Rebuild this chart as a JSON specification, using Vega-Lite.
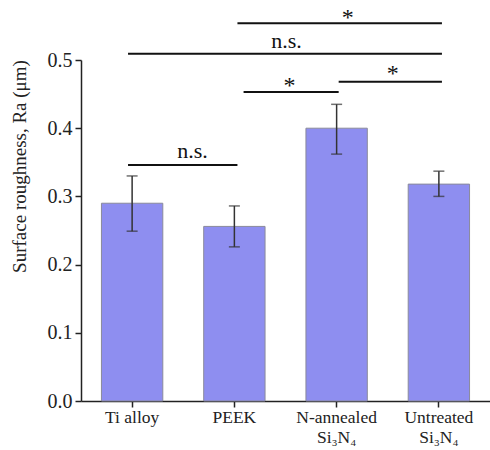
{
  "$schema": "https://vega.github.io/schema/vega-lite/v6.json",
  "width": 409,
  "height": 341,
  "autosize": {"type": "none"},
  "padding": {"left": 81, "top": 60, "right": 0, "bottom": 49},
  "background": "white",
  "config": {"font": "Liberation Serif", "view": {"stroke": null}},
  "datasets": {
    "bars": [
      {"group": "Ti alloy", "mean": 0.290, "lo": 0.249, "hi": 0.330},
      {"group": "PEEK", "mean": 0.256, "lo": 0.226, "hi": 0.286},
      {"group": "N-annealed\nSi₃N₄", "mean": 0.400, "lo": 0.362, "hi": 0.435},
      {"group": "Untreated\nSi₃N₄", "mean": 0.318, "lo": 0.300, "hi": 0.337}
    ],
    "brackets": [
      {"from": 1.53, "to": 3.53, "y": 0.554},
      {"from": 0.46, "to": 3.53, "y": 0.509},
      {"from": 2.52, "to": 3.53, "y": 0.468},
      {"from": 1.59, "to": 2.52, "y": 0.453},
      {"from": 0.46, "to": 1.53, "y": 0.346}
    ],
    "stars": [
      {"pos": 2.61, "y": 0.552, "label": "*"},
      {"pos": 3.05, "y": 0.469, "label": "*"},
      {"pos": 2.04, "y": 0.451, "label": "*"}
    ],
    "ns": [
      {"pos": 2.01, "y": 0.5176, "label": "n.s."},
      {"pos": 1.09, "y": 0.356, "label": "n.s."}
    ]
  },
  "layer": [
    {
      "data": {"name": "bars"},
      "encoding": {
        "x": {
          "field": "group",
          "type": "nominal",
          "sort": null,
          "scale": {"paddingInner": 0.4, "paddingOuter": 0.2},
          "axis": {
            "title": null,
            "labelAngle": 0,
            "labelExpr": "split(datum.label, '\\n')",
            "labelFontSize": 17.5,
            "labelColor": "#222",
            "labelLineHeight": 20,
            "labelPadding": 1,
            "tickSize": 6,
            "tickColor": "#222",
            "tickWidth": 1.5,
            "domainColor": "#222",
            "domainWidth": 1.5
          }
        }
      },
      "layer": [
        {
          "mark": {"type": "bar", "color": "#8e8ef0", "stroke": "#8a8a9a", "strokeWidth": 1},
          "encoding": {
            "y": {
              "field": "mean",
              "type": "quantitative",
              "scale": {"domain": [0, 0.5], "nice": false},
              "axis": {
                "title": "Surface roughness, Ra (μm)",
                "titleFontSize": 19,
                "titleFontWeight": "normal",
                "titleColor": "#222",
                "titlePadding": 18,
                "titleY": 106,
                "values": [0, 0.05, 0.1, 0.15, 0.2, 0.25, 0.3, 0.35, 0.4, 0.45, 0.5],
                "labelExpr": "round(datum.value*100)%10==0 ? format(datum.value,'.1f') : ''",
                "labelFontSize": 20,
                "labelColor": "#222",
                "labelPadding": 3,
                "tickSize": {"condition": {"test": "round(datum.value*100)%10!=0", "value": 3}, "value": 6},
                "tickColor": "#222",
                "tickWidth": 1.5,
                "domainColor": "#222",
                "domainWidth": 1.5,
                "grid": false
              }
            }
          }
        },
        {
          "mark": {"type": "rule", "color": "#333", "strokeWidth": 1.5},
          "encoding": {
            "y": {"field": "lo", "type": "quantitative"},
            "y2": {"field": "hi"}
          }
        },
        {
          "mark": {"type": "tick", "color": "#333", "size": 11, "thickness": 1.5},
          "encoding": {"y": {"field": "lo", "type": "quantitative"}}
        },
        {
          "mark": {"type": "tick", "color": "#333", "size": 11, "thickness": 1.5},
          "encoding": {"y": {"field": "hi", "type": "quantitative"}}
        }
      ]
    },
    {
      "layer": [
        {
          "data": {"name": "brackets"},
          "mark": {"type": "rule", "color": "#111", "strokeWidth": 2},
          "encoding": {
            "x": {"field": "from", "type": "quantitative", "scale": {"domain": [0, 4], "nice": false, "zero": false}, "axis": null},
            "x2": {"field": "to"},
            "y": {"field": "y", "type": "quantitative"}
          }
        },
        {
          "data": {"name": "stars"},
          "mark": {"type": "text", "fontSize": 24, "baseline": "alphabetic", "color": "#111"},
          "encoding": {
            "x": {"field": "pos", "type": "quantitative", "scale": {"domain": [0, 4], "nice": false, "zero": false}, "axis": null},
            "y": {"field": "y", "type": "quantitative"},
            "text": {"field": "label"}
          }
        },
        {
          "data": {"name": "ns"},
          "mark": {"type": "text", "fontSize": 22, "baseline": "alphabetic", "color": "#111"},
          "encoding": {
            "x": {"field": "pos", "type": "quantitative", "scale": {"domain": [0, 4], "nice": false, "zero": false}, "axis": null},
            "y": {"field": "y", "type": "quantitative"},
            "text": {"field": "label"}
          }
        }
      ]
    }
  ],
  "resolve": {"scale": {"x": "independent"}, "axis": {"x": "independent"}}
}
